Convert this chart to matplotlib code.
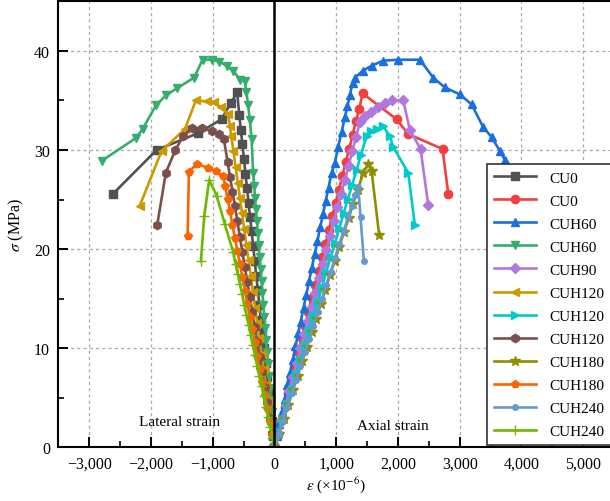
import matplotlib
matplotlib.use("Agg")
import matplotlib.pyplot as plt
from matplotlib.ticker import MultipleLocator, FuncFormatter

plt.rcParams['font.family'] = ['Liberation Serif', 'DejaVu Serif']
plt.rcParams['mathtext.fontset'] = 'stix'

# stress-strain data: strain in microstrain, stress in MPa
cu0_lat_x = [0, -20, -45, -70, -95, -120, -145, -170, -195, -220, -245, -270, -295, -320, -345,
             -370, -395, -420, -445, -470, -495, -520, -545, -570, -604, -711, -857, -1235, -1909, -2612]
cu0_lat_y = [0, 1.2, 2.7, 4.1, 5.6, 7.1, 8.5, 10.0, 11.5, 12.9, 14.4, 15.9, 17.3, 18.8, 20.3,
             21.8, 23.2, 24.7, 26.2, 27.6, 29.1, 30.6, 32.0, 33.5, 35.8, 34.7, 33.1, 31.7, 30.0, 25.6]

cu0_ax_x = [0, 55, 110, 165, 220, 275, 330, 385, 440, 495, 550, 605, 660, 715, 770, 825, 880,
            935, 990, 1045, 1100, 1155, 1210, 1265, 1320, 1372, 1427, 1977, 2166, 2722, 2814]
cu0_ax_y = [0, 1.4, 2.7, 4.1, 5.5, 6.8, 8.2, 9.6, 11.0, 12.3, 13.7, 15.1, 16.4, 17.8, 19.2, 20.5,
            21.9, 23.3, 24.7, 26.0, 27.4, 28.8, 30.1, 31.5, 32.9, 34.1, 35.7, 33.1, 31.6, 30.1, 25.6]

cuh60_ax_x = [0, 40, 80, 120, 165, 210, 250, 295, 340, 385, 425, 470, 515, 560, 605, 650, 695,
              740, 785, 830, 875, 925, 978, 1030, 1087, 1140, 1180, 1221, 1265, 1302, 1436, 1572,
              1760, 2003, 2355, 2570, 2760, 3002, 3192, 3380, 3516, 3650, 3730]
cuh60_ax_y = [0, 1.2, 2.4, 3.6, 4.9, 6.3, 7.5, 8.8, 10.2, 11.5, 12.7, 14.1, 15.4, 16.8, 18.1,
              19.5, 20.8, 22.2, 23.5, 24.9, 26.2, 27.7, 28.7, 30.3, 31.8, 33.3, 34.4, 35.5, 36.8,
              37.3, 38.0, 38.5, 39.0, 39.1, 39.1, 37.3, 36.3, 35.6, 34.6, 32.3, 31.3, 29.9, 29.0]

cuh60_lat_x = [0, -15, -30, -45, -60, -75, -90, -105, -120, -135, -150, -165, -180, -195, -210,
               -225, -240, -255, -270, -285, -300, -315, -330, -345, -371, -400, -426, -455, -480,
               -560, -669, -776, -896, -1019, -1165, -1300, -1585, -1759, -1921, -2136, -2245, -2800]
cuh60_lat_y = [0, 1.2, 2.4, 3.6, 4.8, 6.0, 7.2, 8.4, 9.6, 10.8, 12.0, 13.2, 14.4, 15.6, 16.8,
               18.0, 19.2, 20.4, 21.6, 22.8, 24.0, 25.2, 26.4, 27.7, 31.1, 33.0, 34.5, 35.8, 37.0,
               37.1, 38.0, 38.5, 38.9, 39.1, 39.1, 37.3, 36.2, 35.5, 34.5, 32.1, 31.2, 28.9]

cuh90_ax_x = [0, 60, 120, 180, 240, 300, 360, 420, 480, 540, 600, 660, 720, 780, 840, 900, 960,
              1020, 1080, 1140, 1200, 1260, 1320, 1383, 1464, 1570, 1680, 1790, 1896, 2085, 2193,
              2366, 2489]
cuh90_ax_y = [0, 1.4, 2.8, 4.3, 5.7, 7.1, 8.5, 10.0, 11.4, 12.8, 14.2, 15.6, 17.1, 18.5, 19.9,
              21.3, 22.8, 24.2, 25.6, 27.0, 28.4, 29.9, 31.3, 32.8, 33.4, 33.8, 34.3, 34.7, 35.0,
              35.0, 32.0, 30.1, 24.5]

cuh120a_lat_x = [0, -35, -70, -105, -140, -175, -210, -245, -280, -315, -350, -385, -420, -455,
                 -490, -525, -560, -595, -630, -665, -700, -722, -750, -868, -981, -1100, -1273,
                 -1451, -1829, -2180]
cuh120a_lat_y = [0, 1.6, 3.1, 4.7, 6.3, 7.9, 9.4, 11.0, 12.6, 14.1, 15.7, 17.3, 18.9, 20.4, 22.0,
                 23.6, 25.2, 26.7, 28.3, 29.9, 31.4, 32.4, 33.6, 34.3, 34.8, 34.9, 35.0, 32.1,
                 29.9, 24.4]

cuh120_ax_x = [0, 70, 140, 210, 280, 350, 420, 490, 560, 630, 700, 770, 840, 910, 980, 1050,
               1120, 1190, 1260, 1330, 1400, 1491, 1560, 1653, 1760, 1869, 1923, 2166, 2274]
cuh120_ax_y = [0, 1.5, 2.9, 4.4, 5.9, 7.4, 8.8, 10.3, 11.8, 13.3, 14.7, 16.2, 17.7, 19.2, 20.6,
               22.1, 23.6, 25.1, 26.5, 28.0, 29.5, 31.4, 31.9, 32.1, 32.4, 31.4, 30.3, 27.7, 22.4]

cuh120b_lat_x = [0, -40, -80, -120, -160, -200, -240, -280, -320, -360, -400, -440, -480, -520,
                 -560, -600, -640, -680, -720, -760, -820, -896, -1019, -1181, -1343, -1478,
                 -1605, -1760, -1900]
cuh120b_lat_y = [0, 1.5, 3.0, 4.6, 6.1, 7.6, 9.1, 10.6, 12.1, 13.7, 15.2, 16.7, 18.2, 19.7,
                 21.2, 22.8, 24.3, 25.8, 27.3, 28.8, 31.1, 31.6, 31.9, 32.2, 32.2, 31.4, 30.0,
                 27.7, 22.4]

cuh180_ax_x = [0, 75, 150, 225, 300, 375, 450, 525, 600, 675, 750, 825, 900, 975, 1050, 1125,
               1200, 1275, 1350, 1437, 1518, 1572, 1696]
cuh180_ax_y = [0, 1.4, 2.9, 4.3, 5.8, 7.2, 8.7, 10.1, 11.6, 13.0, 14.5, 15.9, 17.4, 18.8, 20.2,
               21.7, 23.1, 24.6, 26.0, 27.7, 28.6, 27.9, 21.4]

cuh180_lat_x = [0, -40, -80, -120, -160, -200, -240, -280, -320, -360, -400, -440, -480, -520,
                -560, -600, -640, -680, -720, -760, -800, -830, -949, -1073, -1262, -1386, -1407]
cuh180_lat_y = [0, 1.3, 2.6, 4.0, 5.3, 6.6, 7.9, 9.2, 10.6, 11.9, 13.2, 14.5, 15.8, 17.2, 18.5,
                19.8, 21.1, 22.4, 23.8, 25.1, 26.4, 27.4, 27.9, 28.2, 28.6, 27.8, 21.3]

cuh240_ax_x = [0, 70, 140, 210, 280, 350, 420, 490, 560, 630, 700, 770, 840, 910, 980, 1050,
               1120, 1190, 1250, 1300, 1356, 1394, 1448]
cuh240_ax_y = [0, 1.4, 2.7, 4.1, 5.5, 6.8, 8.2, 9.6, 10.9, 12.3, 13.7, 15.0, 16.4, 17.7, 19.1,
               20.5, 21.8, 23.2, 24.4, 25.5, 26.3, 23.2, 18.8]

cuh240_lat_x = [0, -35, -70, -105, -140, -175, -210, -245, -280, -315, -350, -385, -420, -455,
                -490, -525, -560, -595, -630, -669, -803, -938, -1057, -1138, -1192]
cuh240_lat_y = [0, 1.0, 2.1, 3.1, 4.1, 5.2, 6.2, 7.2, 8.2, 9.3, 10.3, 11.3, 12.4, 13.4, 14.4,
                15.5, 16.5, 17.5, 18.5, 19.7, 22.5, 25.4, 27.0, 23.3, 18.8]

labels = ['CU0', 'CU0', 'CUH60', 'CUH60', 'CUH90', 'CUH120', 'CUH120', 'CUH120',
          'CUH180', 'CUH180', 'CUH240', 'CUH240']
series = [(cu0_lat_x, cu0_lat_y), (cu0_ax_x, cu0_ax_y), (cuh60_ax_x, cuh60_ax_y),
          (cuh60_lat_x, cuh60_lat_y), (cuh90_ax_x, cuh90_ax_y), (cuh120a_lat_x, cuh120a_lat_y),
          (cuh120_ax_x, cuh120_ax_y), (cuh120b_lat_x, cuh120b_lat_y), (cuh180_ax_x, cuh180_ax_y),
          (cuh180_lat_x, cuh180_lat_y), (cuh240_ax_x, cuh240_ax_y), (cuh240_lat_x, cuh240_lat_y)]
colors = ['#515151', '#F14040', '#1A6FDF', '#37AD6B', '#B177DE', '#CC9900',
          '#00CBCC', '#7D4E4E', '#8E8E00', '#FB6501', '#6699CC', '#6FB802']
markers = ['s', 'o', '^', 'v', 'D', '<', '>', 'h', '*', 'p', 'o', '+']
msizes = [5.5, 6, 6, 6, 5, 6, 6, 6, 7, 6, 4, 6.5]

fig = plt.figure(figsize=(6.1, 5.02), dpi=100)
ax = fig.add_axes([0.0957, 0.1066, 0.911, 0.889])

for (x, y), lab, c, m, ms in zip(series, labels, colors, markers, msizes):
    ax.plot(x, y, color=c, marker=m, markersize=ms, linewidth=1.9, label=lab)

ax.axvline(0, color='black', linewidth=1.8, zorder=5)

ax.set_xlim(-3500, 5500)
ax.set_ylim(0, 45)
ax.xaxis.set_major_locator(MultipleLocator(1000))
ax.xaxis.set_minor_locator(MultipleLocator(500))
ax.yaxis.set_major_locator(MultipleLocator(10))
ax.yaxis.set_minor_locator(MultipleLocator(5))
ax.xaxis.set_major_formatter(FuncFormatter(lambda v, p: f"{v:,.0f}".replace('-', '\u2212')))
ax.tick_params(which='major', direction='in', length=7, width=1.4, labelsize=11.5, pad=6)
ax.tick_params(which='minor', direction='in', length=4, width=1.2)
for s in ax.spines.values():
    s.set_linewidth(1.5)
ax.grid(True, which='major', color='#aaaaaa', linestyle=(0, (2.5, 2.5)), linewidth=0.9)
ax.set_axisbelow(True)

ax.set_xlabel(r'$\varepsilon$ (×10$^{-6}$)', fontsize=11, labelpad=2)
ax.set_ylabel(r'$\sigma$ (MPa)', fontsize=11.5, labelpad=6)

ax.text(-1530, 2.6, 'Lateral strain', ha='center', va='center', fontsize=11)
ax.text(1920, 2.2, 'Axial strain', ha='center', va='center', fontsize=11)

leg = ax.legend(loc='lower left', bbox_to_anchor=(0.771, 0.006), borderaxespad=0,
                fontsize=11, labelspacing=0.61, handlelength=2.8, handletextpad=0.85,
                borderpad=0.45, fancybox=False, framealpha=1, edgecolor='#333333')
leg.get_frame().set_linewidth(1.2)
leg.set_zorder(10)

fig.savefig('out.png', dpi=100)
